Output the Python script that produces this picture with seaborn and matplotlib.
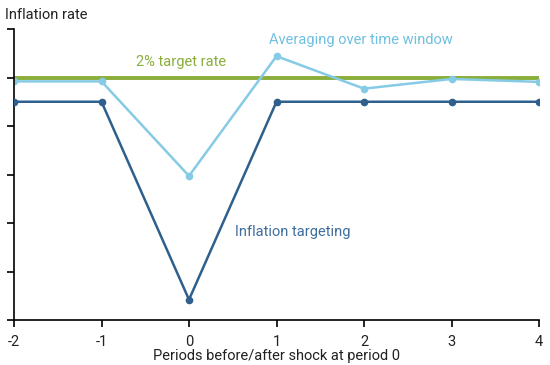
import matplotlib
matplotlib.use("Agg")
import matplotlib.pyplot as plt
import seaborn as sns
import pandas as pd

periods = [-2, -1, 0, 1, 2, 3, 4]
inflation_targeting = [1.5, 1.5, -2.58, 1.5, 1.5, 1.5, 1.5]
averaging_window = [1.92, 1.92, -0.03, 2.44, 1.77, 1.97, 1.91]
target_rate = 2.0
y_ticks = [-3, -2, -1, 0, 1, 2, 3]
x_ticks = [-2, -1, 0, 1, 2, 3, 4]

sns.set_theme(style="white")
plt.rcParams['font.family'] = ['Roboto', 'DejaVu Sans']

dark = "#2f5f8c"
light = "#86cbe6"
green = "#8aae3a"

fig = plt.figure(figsize=(5.5, 3.65), dpi=100)
ax = fig.add_axes([14/550, 1 - 320/365, (539-14)/550, (320-29)/365])

df = pd.DataFrame({"period": periods, "it": inflation_targeting, "avg": averaging_window})

ax.axhline(target_rate, color=green, lw=2.8, zorder=1)
sns.lineplot(data=df, x="period", y="avg", ax=ax, color=light, lw=1.8,
             marker="o", markersize=5.5, markeredgewidth=0, zorder=2)
sns.lineplot(data=df, x="period", y="it", ax=ax, color=dark, lw=1.8,
             marker="o", markersize=5.5, markeredgewidth=0, zorder=3)

ax.set_xlim(-2, 4)
ax.set_ylim(-3, 3)
ax.set_xticks(x_ticks)
ax.set_xticklabels([str(v) for v in x_ticks])
ax.set_yticks(y_ticks)
ax.set_yticklabels([])
for s in ["top", "right"]:
    ax.spines[s].set_visible(False)
for s in ["left", "bottom"]:
    ax.spines[s].set_color("black")
    ax.spines[s].set_linewidth(1.2)
ax.tick_params(axis="both", which="both", direction="out", length=5, width=1.2,
               color="black", labelsize=10.5, labelcolor="#222222", pad=6,
               left=True, bottom=True)
ax.set_ylabel("")
ax.set_xlabel("Periods before/after shock at period 0", fontsize=10.5,
              color="#222222", labelpad=0)

fig.text(5/550, 1 - 15/365, "Inflation rate", fontsize=10.5, color="#222222",
         ha="left", va="center")
ax.text(-0.09, 2.32, "2% target rate", color=green, fontsize=10.5, ha="center", va="center")
ax.text(1.96, 2.77, "Averaging over time window", color="#6fc0e0", fontsize=10.5,
        ha="center", va="center")
ax.text(1.19, -1.19, "Inflation targeting", color="#3f6e9c", fontsize=10.5,
        ha="center", va="center")

fig.savefig("out.png", dpi=100)
